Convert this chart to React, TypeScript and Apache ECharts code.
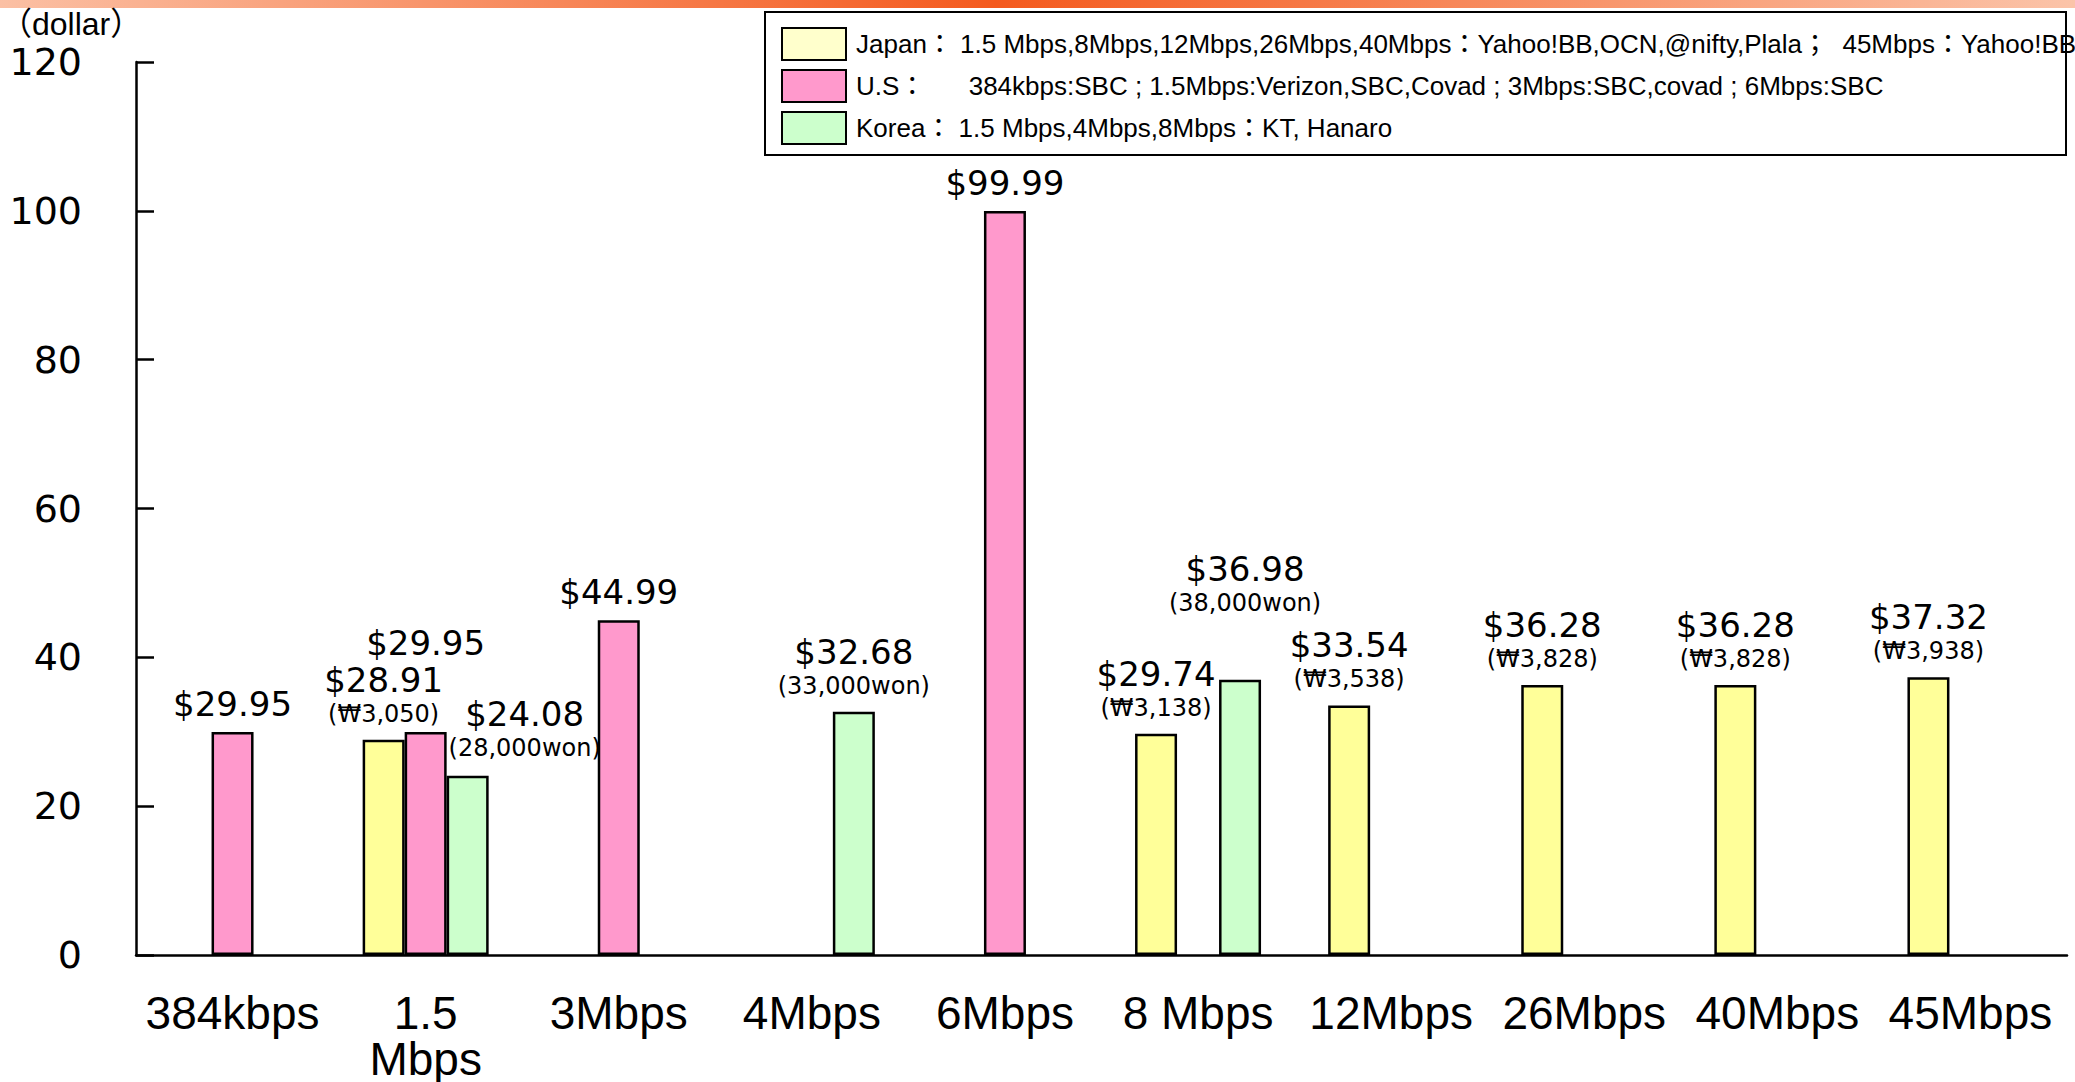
import React, { useEffect, useRef } from "react";
import * as echarts from "echarts";

const categories = ["384kbps", "1.5\nMbps", "3Mbps", "4Mbps", "6Mbps", "8 Mbps", "12Mbps", "26Mbps", "40Mbps", "45Mbps"];
const japanValues = [null, 28.91, null, null, null, 29.74, 33.54, 36.28, 36.28, 37.32];
const usValues = [29.95, 29.95, 44.99, null, 99.99, null, null, null, null, null];
const koreaValues = [null, 24.08, null, 32.68, null, 36.98, null, null, null, null];
const japanWon = [null, "(₩3,050)", null, null, null, "(₩3,138)", "(₩3,538)", "(₩3,828)", "(₩3,828)", "(₩3,938)"];
const koreaWon = [null, "(28,000won)", null, "(33,000won)", null, "(38,000won)", null, null, null, null];
const usWon = [null, null, null, null, null, null, null, null, null, null];

const legendTexts: Record<string, string> = {
  Japan: "Japan： 1.5 Mbps,8Mbps,12Mbps,26Mbps,40Mbps：Yahoo!BB,OCN,@nifty,Plala；  45Mbps：Yahoo!BB",
  "U.S": "U.S：      384kbps:SBC ; 1.5Mbps:Verizon,SBC,Covad ; 3Mbps:SBC,covad ; 6Mbps:SBC",
  Korea: "Korea： 1.5 Mbps,4Mbps,8Mbps：KT, Hanaro",
};

const labelOffsets: Record<string, [number, number]> = {
  "U.S-1": [0, -61],
  "Korea-1": [57, -2],
  "Korea-5": [5, -51],
};

const LABEL_FONT = "'DejaVu Sans', 'Noto Sans CJK KR', sans-serif";
const TEXT_FONT = "'Liberation Sans', 'Noto Sans CJK KR', sans-serif";

function makeSeries(name: string, values: (number | null)[], won: (string | null)[], color: string) {
  return {
    type: "bar",
    name,
    barWidth: 42,
    barGap: "0%",
    itemStyle: { color, borderColor: "#000", borderWidth: 2.5 },
    data: values.map((v, i) => {
      if (v == null) return "-";
      const w = won[i];
      return {
        value: v,
        label: {
          show: true,
          position: "top",
          distance: 10,
          color: "#000",
          offset: labelOffsets[`${name}-${i}`] || [0, 0],
          formatter: w ? `{a|$${v.toFixed(2)}}\n{b|${w}}` : `{a|$${v.toFixed(2)}}`,
          rich: {
            a: { fontSize: 34, fontFamily: LABEL_FONT, lineHeight: 36, color: "#000" },
            b: { fontSize: 24, fontFamily: LABEL_FONT, lineHeight: 32, color: "#000" },
          },
        },
      };
    }),
  };
}

export default function App() {
  const ref = useRef<HTMLDivElement>(null);
  useEffect(() => {
    document.body.style.margin = "0";
    if (!ref.current) return;
    const chart = echarts.init(ref.current, null, { renderer: "svg" });
    chart.setOption({
      animation: false,
      backgroundColor: "#fff",
      grid: { left: 136, right: 8, top: 62, bottom: 121, containLabel: false },
      legend: {
        orient: "vertical",
        left: 781,
        top: 27,
        padding: 0,
        itemWidth: 64,
        itemHeight: 32,
        itemGap: 8,
        selectedMode: false,
        icon: "rect",
        itemStyle: { borderColor: "#000", borderWidth: 2 },
        textStyle: { fontSize: 26, fontFamily: TEXT_FONT, color: "#000", padding: [0, 0, 0, 5] },
        formatter: (n: string) => legendTexts[n] || n,
        data: [
          { name: "Japan", itemStyle: { color: "#ffffcc" } },
          { name: "U.S", itemStyle: { color: "#ff99cc" } },
          { name: "Korea", itemStyle: { color: "#ccffcc" } },
        ],
      },
      graphic: [
        {
          type: "rect",
          z: 1,
          shape: { x: 0, y: 0, width: 2075, height: 8 },
          style: {
            fill: new echarts.graphic.LinearGradient(0, 0, 1, 0, [
              { offset: 0, color: "#fbc0a4" },
              { offset: 0.48, color: "#f45a1e" },
              { offset: 1, color: "#fbc4a9" },
            ]),
          },
        },
        {
          type: "rect",
          z: 1,
          shape: { x: 765, y: 12, width: 1301, height: 143 },
          style: { fill: "#fff", stroke: "#000", lineWidth: 2 },
        },
        {
          type: "text",
          z: 1,
          x: 0,
          y: 8,
          style: { text: "（dollar）", fontSize: 32, fontFamily: TEXT_FONT, fill: "#000" },
        },
      ],
      xAxis: {
        type: "category",
        data: categories,
        axisLine: { lineStyle: { color: "#000", width: 2.5 } },
        axisTick: { inside: true, length: 13, lineStyle: { color: "#000", width: 2.5 } },
        axisLabel: {
          fontSize: 46,
          lineHeight: 46,
          margin: 35,
          color: "#000",
          fontFamily: "'Liberation Sans', sans-serif",
          interval: 0,
        },
      },
      yAxis: {
        type: "value",
        min: 0,
        max: 120,
        interval: 20,
        splitLine: { show: false },
        axisLine: { show: true, lineStyle: { color: "#000", width: 2.5 } },
        axisTick: { show: true, inside: true, length: 18, lineStyle: { color: "#000", width: 2.5 } },
        axisLabel: { fontSize: 38, margin: 54, color: "#000", fontFamily: LABEL_FONT },
      },
      series: [
        makeSeries("Japan", japanValues, japanWon, "#ffff99"),
        makeSeries("U.S", usValues, usWon, "#ff99cc"),
        makeSeries("Korea", koreaValues, koreaWon, "#ccffcc"),
      ],
    });
    return () => chart.dispose();
  }, []);
  return <div ref={ref} style={{ width: 2075, height: 1082 }} />;
}
